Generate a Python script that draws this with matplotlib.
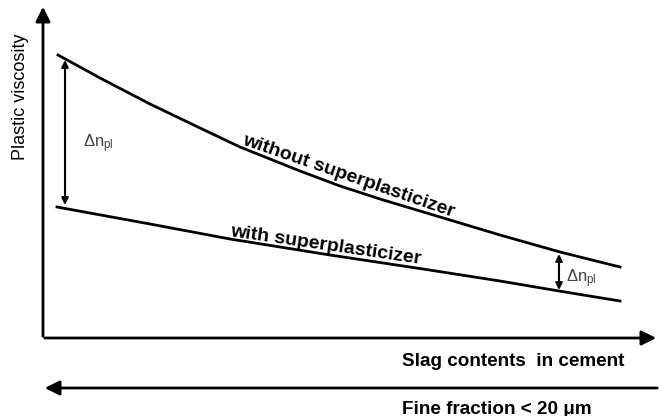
import matplotlib
matplotlib.use("Agg")
import matplotlib.pyplot as plt

plt.rcParams['font.family'] = ['Liberation Sans', 'DejaVu Sans']
plt.rcParams['mathtext.default'] = 'regular'

# curves (x = slag content, y = plastic viscosity, image units)
x_without = [58, 80, 100, 125, 150, 175, 200, 240, 270, 300, 340, 380, 420, 450, 500, 560, 620]
visc_without = [55, 67, 78, 91, 104, 116, 128, 147, 159, 171, 186, 199, 211, 220, 235, 252, 267]
x_with = [57, 150, 230, 330, 423, 500, 559, 620]
visc_with = [207, 224, 239, 255, 269, 281, 291, 301]

# delta arrows: x position, top, bottom
delta_left = (65, 60, 205)
delta_right = (559, 254, 290)

label_without = "without superplasticizer"
label_with = "with superplasticizer"
xlabel = "Slag contents  in cement"
xlabel2 = "Fine fraction < 20 \u03bcm"
ylabel = "Plastic viscosity"


def draw():
    fig = plt.figure(figsize=(6.6, 4.16), dpi=100)
    ax = fig.add_axes([0, 0, 1, 1])
    ax.set_xlim(0, 660)
    ax.set_ylim(416, 0)
    ax.axis('off')

    # axes with arrows
    ax.annotate('', xy=(43, 4), xytext=(43, 339),
                arrowprops=dict(arrowstyle='-|>', lw=2, color='k', mutation_scale=22))
    ax.annotate('', xy=(659, 338), xytext=(42, 338),
                arrowprops=dict(arrowstyle='-|>', lw=2, color='k', mutation_scale=22))
    ax.annotate('', xy=(42, 388), xytext=(660, 388),
                arrowprops=dict(arrowstyle='-|>', lw=2, color='k', mutation_scale=22))

    # curves
    ax.plot(x_without, visc_without, color='k', lw=2, solid_joinstyle='round')
    ax.plot(x_with, visc_with, color='k', lw=2, solid_joinstyle='round')

    # delta arrows
    for xd, y0, y1 in (delta_left, delta_right):
        ax.annotate('', xy=(xd, y0), xytext=(xd, y1),
                    arrowprops=dict(arrowstyle='<|-|>', lw=1.5, color='k',
                                    mutation_scale=10, shrinkA=0, shrinkB=0))
    ax.text(83, 147, r'$\Delta$n$_{pl}$', fontsize=12, color='#444')
    ax.text(566, 282, r'$\Delta$n$_{pl}$', fontsize=12, color='#444')

    # curve labels
    ax.text(241, 144, label_without, fontsize=14, fontweight='bold',
            rotation=-19, rotation_mode='anchor', ha='left', va='baseline')
    ax.text(230, 236, label_with, fontsize=14, fontweight='bold',
            rotation=-8.3, rotation_mode='anchor', ha='left', va='baseline')

    # axis labels
    ax.text(402, 362, xlabel, fontsize=13.6, fontweight='bold', ha='left', va='center')
    ax.text(402, 409, xlabel2, fontsize=13.6, fontweight='bold', ha='left', va='center')
    ax.text(21, 97, ylabel, fontsize=13, rotation=90, ha='center', va='center')

    fig.savefig('out.png', dpi=100)


if __name__ == "__main__":
    draw()
